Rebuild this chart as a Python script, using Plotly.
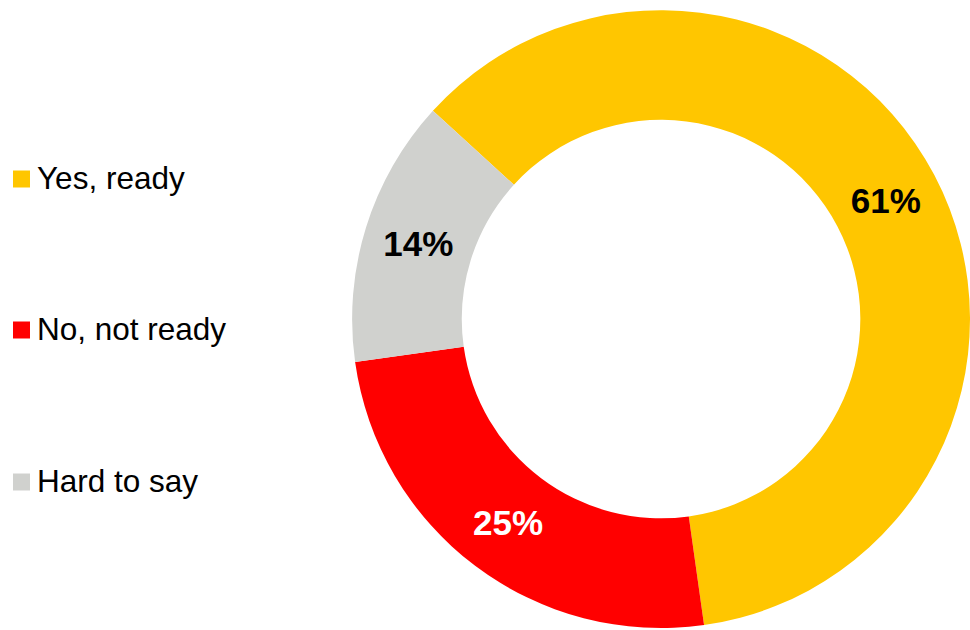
import plotly.graph_objects as go

# Survey answers and their shares (%)
labels = ["Yes, ready", "No, not ready", "Hard to say"]
shares = [61, 25, 14]
colors = ["#FFC600", "#FF0000", "#D0D1CE"]
label_colors = ["#000000", "#FFFFFF", "#000000"]

W, H = 970, 630

fig = go.Figure(
    go.Pie(
        labels=labels,
        values=shares,
        sort=False,
        direction="clockwise",
        rotation=-47.6,
        hole=0.645,
        marker=dict(colors=colors, line=dict(width=0)),
        texttemplate="%{value}%",
        textposition="inside",
        insidetextorientation="horizontal",
        textfont=dict(family="Liberation Sans, Arial, sans-serif", size=35,
                      color=label_colors, weight="bold"),
        domain=dict(x=[0.363, 1.0], y=[0.0, 0.987]),
        showlegend=False,
        hoverinfo="label+percent",
    )
)

# Legend drawn as colour squares with text beside them
legend_y = [179, 330, 482]
shapes, annotations = [], []
for lab, col, yp in zip(labels, colors, legend_y):
    shapes.append(dict(
        type="rect", xref="paper", yref="paper",
        x0=13 / W, x1=30 / W,
        y0=1 - (yp + 8.5) / H, y1=1 - (yp - 8.5) / H,
        fillcolor=col, line=dict(width=0),
    ))
    annotations.append(dict(
        text=lab, xref="paper", yref="paper",
        x=35 / W, y=1 - (yp - 1) / H, xanchor="left", yanchor="middle",
        showarrow=False,
        font=dict(family="Liberation Sans, Arial, sans-serif", size=31.5, color="#000000"),
    ))

fig.update_layout(
    width=W, height=H,
    margin=dict(l=0, r=0, t=0, b=0),
    paper_bgcolor="white",
    plot_bgcolor="white",
    shapes=shapes,
    annotations=annotations,
)

fig.write_html("out.html")
